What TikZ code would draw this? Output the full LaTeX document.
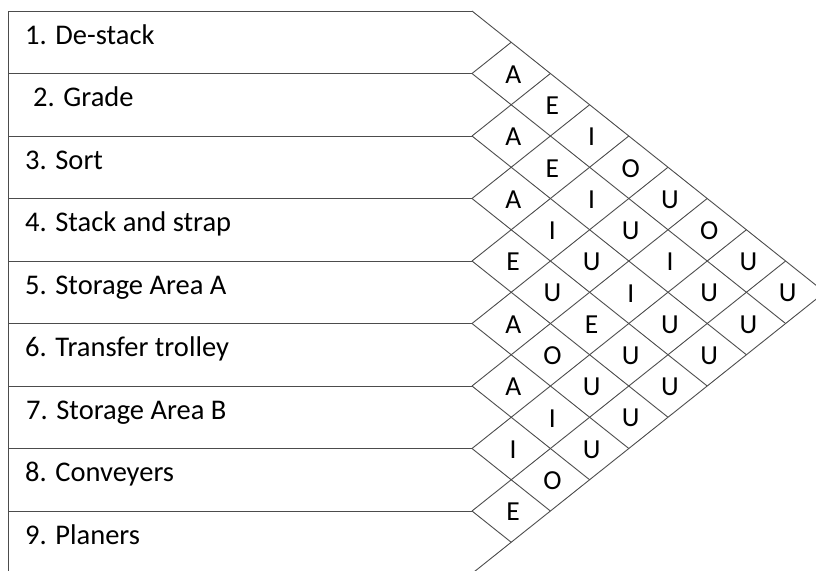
\documentclass[tikz,border=0pt]{standalone}
\usepackage{fontspec}
\setmainfont{Carlito}
\begin{document}
\begin{tikzpicture}[x=1pt,y=-1pt,
  grid/.style={draw=black!70, line width=0.9pt},
  rowlabel/.style={anchor=base west, inner sep=0pt, font=\fontsize{28.5}{32}\selectfont},
  rel/.style={inner sep=0pt, font=\fontsize{27.5}{30}\selectfont}]
\useasboundingbox (0,0) rectangle (816,570);
\clip (0,0) rectangle (816,570);
% row boundaries
\foreach \i in {0,...,9}
  \draw[grid] (8,{11+62.5*\i}) -- (472,{11+62.5*\i});
\draw[grid] (8,11) -- (8,573.5);
% diamond grid
\foreach \i in {1,...,9}
  \draw[grid] (472,{11+62.5*\i}) -- ++({39.2*\i},{-31.25*\i});
\foreach \i in {0,...,8}
  \draw[grid] (472,{11+62.5*\i}) -- ++({39.2*(9-\i)},{31.25*(9-\i)});
% row labels
\node[rowlabel] (r1) at (25,44) {1. De-stack};
\node[rowlabel] (r2) at (33,106.5) {2. Grade};
\node[rowlabel] (r3) at (25,169) {3. Sort};
\node[rowlabel] (r4) at (25,231.5) {4. Stack and strap};
\node[rowlabel] (r5) at (25,294) {5. Storage Area A};
\node[rowlabel] (r6) at (25,356.5) {6. Transfer trolley};
\node[rowlabel] (r7) at (26,419) {7. Storage Area B};
\node[rowlabel] (r8) at (25,481.5) {8. Conveyers};
\node[rowlabel] (r9) at (25,544) {9. Planers};
% relationship codes
\foreach \i/\j/\l in {1/2/A,2/3/A,3/4/A,4/5/E,5/6/A,6/7/A,7/8/I,8/9/E,
  1/3/E,2/4/E,3/5/I,4/6/U,5/7/O,6/8/I,7/9/O,
  1/4/I,2/5/I,3/6/U,4/7/E,5/8/U,6/9/U,
  1/5/O,2/6/U,3/7/I,4/8/U,5/9/U,
  1/6/U,2/7/I,3/8/U,4/9/U,
  1/7/O,2/8/U,3/9/U,
  1/8/U,2/9/U,
  1/9/U}
  \node[rel] (c\i\j) at ({474+39.2*(\j-\i)},{12+31.25*(\i+\j-1)}) {\l};
\end{tikzpicture}
\end{document}
